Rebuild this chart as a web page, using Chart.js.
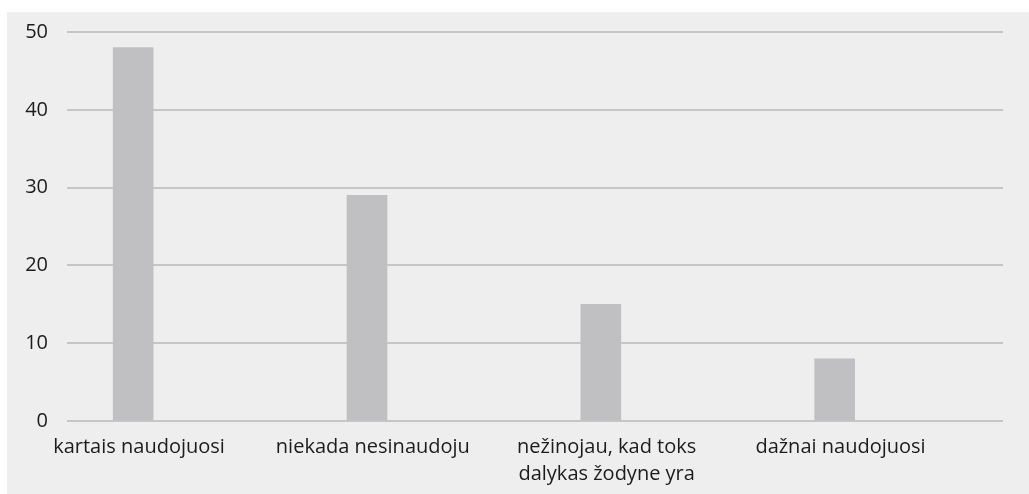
<!DOCTYPE html>
<html>
<head>
<meta charset="utf-8">
<script src="https://cdn.jsdelivr.net/npm/chart.js@4"></script>
<style>
  html, body { margin: 0; padding: 0; background: #ffffff; }
  #box { position: absolute; left: 7px; top: 12px; width: 1022px; height: 482px; background: #eeeeee; }
</style>
</head>
<body>
<div id="box"><canvas id="chart" width="1022" height="482"></canvas></div>
<script>
const kategorijos = [
  ["kartais naudojuosi"],
  ["niekada nesinaudoju"],
  ["nežinojau, kad toks", "dalykas žodyne yra"],
  ["dažnai naudojuosi"]
];
const reiksmes = [48, 29, 15, 8];
const yTicks = [0, 10, 20, 30, 40, 50];

const ctx = document.getElementById("chart").getContext("2d");
new Chart(ctx, {
  type: "bar",
  data: {
    datasets: [{
      data: reiksmes.map((v, i) => ({ x: i, y: v })),
      backgroundColor: "#c0c0c2",
      borderWidth: 0,
      barThickness: 40
    }]
  },
  options: {
    responsive: false,
    animation: false,
    layout: { padding: { left: 0, right: 26, top: 20, bottom: 0 } },
    plugins: { legend: { display: false }, tooltip: { enabled: false } },
    scales: {
      x: {
        type: "linear",
        offset: false,
        min: -0.283,
        max: 3.72,
        grid: { display: false, drawTicks: false },
        border: { display: false },
        afterFit: (scale) => { scale.height = 73; },
        afterBuildTicks: (scale) => {
          scale.ticks = kategorijos.map((_, i) => ({ value: i + 0.025 }));
        },
        ticks: {
          autoSkip: false,
          maxRotation: 0,
          padding: 13,
          color: "#1c1c1c",
          font: { family: "Open Sans", size: 20, lineHeight: 1.35 },
          callback: (value) => kategorijos[Math.round(value)]
        }
      },
      y: {
        min: 0,
        max: 50,
        afterFit: (scale) => { scale.width = 60; scale.paddingTop = 0; scale.paddingBottom = 0; },
        afterBuildTicks: (scale) => {
          scale.ticks = yTicks.map(v => ({ value: v }));
        },
        grid: { color: "#c6c6c6", lineWidth: 2, drawTicks: false },
        border: { display: false },
        ticks: {
          padding: 19,
          color: "#1c1c1c",
          font: { family: "Open Sans", size: 20 }
        }
      }
    }
  }
});
</script>
</body>
</html>
